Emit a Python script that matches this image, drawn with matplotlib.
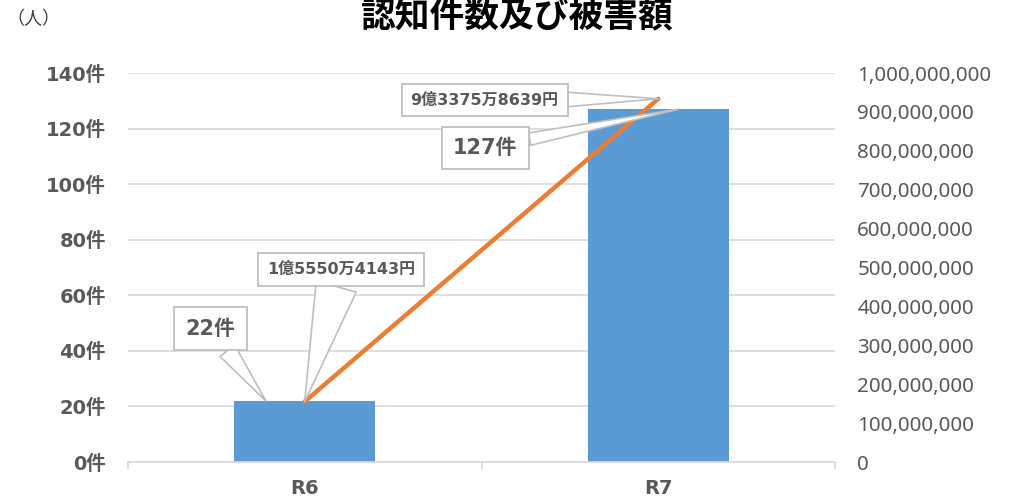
import matplotlib
matplotlib.use("Agg")
import matplotlib.pyplot as plt
from matplotlib.ticker import FuncFormatter, FixedLocator

plt.rcParams['font.family'] = ['Noto Sans CJK JP', 'DejaVu Sans']
NUMFONT = ['DejaVu Sans', 'Noto Sans CJK JP']   # wide bold digits, CJK fallback

# data
categories = ["R6", "R7"]
counts = [22, 127]                       # 認知件数 (件)
amounts = [155504143, 933758639]         # 被害額 (円)
count_labels = ["22件", "127件"]
amount_labels = ["1億5550万4143円", "9億3375万8639円"]
left_ticks = [0, 20, 40, 60, 80, 100, 120, 140]
right_ticks = [0, 100000000, 200000000, 300000000, 400000000, 500000000,
               600000000, 700000000, 800000000, 900000000, 1000000000]

BAR = "#5B9BD5"
LINE = "#ED7D31"
TXT = "#595959"
GRID = "#D9D9D9"
BOXEDGE = "#BFBFBF"

fig = plt.figure(figsize=(10.15, 5), dpi=100)
ax = fig.add_axes([0.1261, 0.076, 0.6966, 0.778])
ax2 = ax.twinx()

x = list(range(len(categories)))
ax.bar(x, counts, width=0.4, color=BAR, zorder=2)
ax.set_xlim(-0.5, 1.5)
ax.set_ylim(0, 140)
ax.yaxis.set_major_locator(FixedLocator(left_ticks))
ax.yaxis.set_major_formatter(FuncFormatter(lambda v, p: f"{int(v)}件"))
ax.grid(axis="y", color=GRID, lw=1.2, zorder=0)
ax.set_axisbelow(True)
ax.set_xticks(x)
ax.set_xticklabels(categories)
ax.set_xticks([-0.5, 0.5, 1.5], minor=True)
ax.tick_params(axis="x", which="major", length=0, pad=12, labelsize=14, labelcolor=TXT)
ax.tick_params(axis="x", which="minor", length=5, width=1.2, color=GRID)
ax.tick_params(axis="y", length=0, pad=16, labelsize=14, labelcolor=TXT)
for lbl in ax.get_xticklabels() + ax.get_yticklabels():
    lbl.set_fontweight("bold")
    lbl.set_family(NUMFONT)
for s in ["top", "right", "left"]:
    ax.spines[s].set_visible(False)
ax.spines["bottom"].set_color(GRID)
ax.spines["bottom"].set_linewidth(1.2)

ax2.plot(x, amounts, color=LINE, lw=3.2, solid_capstyle="round", zorder=3)
ax2.set_ylim(0, 1000000000)
ax2.yaxis.set_major_locator(FixedLocator(right_ticks))
ax2.yaxis.set_major_formatter(FuncFormatter(lambda v, p: f"{int(v):,}"))
ax2.tick_params(axis="y", length=0, pad=16, labelsize=14.8, labelcolor=TXT)
for lbl in ax2.get_yticklabels():
    lbl.set_family(['Noto Sans', 'DejaVu Sans'])
for s in ["top", "right", "left", "bottom"]:
    ax2.spines[s].set_visible(False)

# callout labels
def callout(text, xy, offset, trans, size, wedge_w):
    ax2.annotate(text, xy=xy, xycoords=trans, xytext=offset, textcoords="offset points",
                 ha="center", va="center", fontsize=size, fontweight="bold", color=TXT,
                 family=NUMFONT,
                 bbox=dict(boxstyle="square,pad=0.55", fc="white", ec=BOXEDGE, lw=1.3),
                 arrowprops=dict(arrowstyle=f"wedge,tail_width={wedge_w},shrink_factor=0.5",
                                 fc="white", ec=BOXEDGE, lw=1.2, shrinkA=0, shrinkB=0),
                 zorder=5)

callout(count_labels[0], (x[0] - 0.11, counts[0]), (-40, 52), ax.transData, 15, 0.9)
callout(count_labels[1], (x[1] + 0.057, counts[1]), (-139, -28), ax.transData, 15, 0.6)
callout(amount_labels[0], (x[0], amounts[0]), (26, 95), ax2.transData, 11.5, 2.6)
callout(amount_labels[1], (x[1], amounts[1]), (-125, -1), ax2.transData, 11.5, 0.9)

fig.text(0.51, 0.966, "認知件数及び被害額", ha="center", va="center",
         fontsize=25, fontweight="bold", color="black")
fig.text(0.033, 0.962, "（人）", ha="center", va="center", fontsize=13, color="#404040")

fig.savefig("out.png", dpi=100)
